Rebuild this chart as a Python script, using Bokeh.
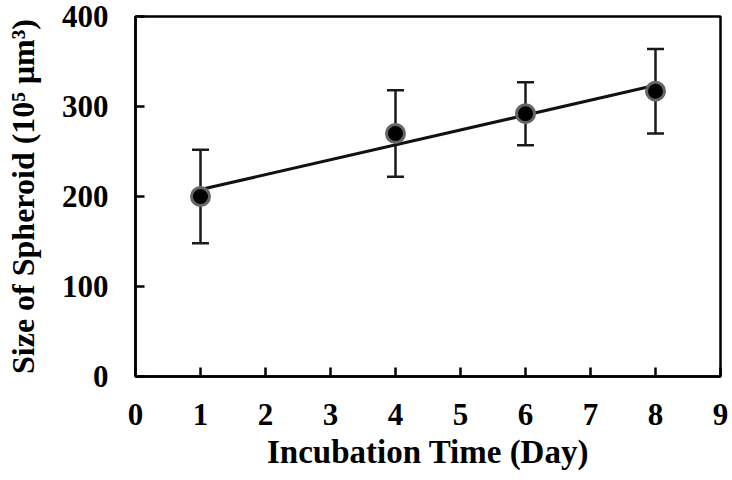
import numpy as np
from bokeh.plotting import figure
from bokeh.models import ColumnDataSource, Whisker, TeeHead, Range1d, FixedTicker
from bokeh.embed import file_html
from bokeh.resources import INLINE

days = [1, 4, 6, 8]
sizes = [200, 270, 292, 317]
errors = [52, 48, 35, 47]
x_ticks = [0, 1, 2, 3, 4, 5, 6, 7, 8, 9]
y_ticks = [0, 100, 200, 300, 400]

lower = [s - e for s, e in zip(sizes, errors)]
upper = [s + e for s, e in zip(sizes, errors)]
src = ColumnDataSource(dict(x=days, y=sizes, lo=lower, hi=upper))

slope, intercept = np.polyfit(days, sizes, 1)
fit_x = [min(days), max(days)]
fit_y = [slope * v + intercept for v in fit_x]

FONT = "Liberation Serif"

p = figure(width=732, height=480, output_backend="svg", toolbar_location=None,
           x_range=Range1d(0, 9), y_range=Range1d(0, 400),
           min_border_left=135, min_border_right=12, min_border_top=16, min_border_bottom=104)
p.grid.visible = False
p.outline_line_color = "black"
p.outline_line_width = 2.5
p.background_fill_color = "white"
p.border_fill_color = "white"

for ax in (p.xaxis[0], p.yaxis[0]):
    ax.axis_line_color = "black"
    ax.axis_line_width = 2.5
    ax.major_tick_line_color = "black"
    ax.major_tick_line_width = 2.5
    ax.major_tick_in = 9
    ax.major_tick_out = 0
    ax.minor_tick_line_color = None
    ax.major_label_text_font = FONT
    ax.major_label_text_font_style = "bold"
    ax.major_label_text_font_size = "31px"
    ax.major_label_text_color = "black"
    ax.axis_label_text_font = FONT
    ax.axis_label_text_font_style = "bold"
    ax.axis_label_text_color = "black"

p.xaxis.ticker = FixedTicker(ticks=x_ticks)
p.yaxis.ticker = FixedTicker(ticks=y_ticks)
p.xaxis.major_label_standoff = 27
p.yaxis.major_label_standoff = 27
p.xaxis.axis_label = "Incubation Time (Day)"
p.yaxis.axis_label = "Size of Spheroid (10⁵ μm³)"
p.xaxis.axis_label_text_font_size = "33px"
p.yaxis.axis_label_text_font_size = "32px"
p.xaxis.axis_label_standoff = 6
p.yaxis.axis_label_standoff = 18

p.line(fit_x, fit_y, line_color="#111111", line_width=3)

w = Whisker(source=src, base="x", upper="hi", lower="lo",
            line_color="#1a1a1a", line_width=2.5,
            upper_head=TeeHead(size=17, line_width=2.5, line_color="#1a1a1a"),
            lower_head=TeeHead(size=17, line_width=2.5, line_color="#1a1a1a"))
p.add_layout(w)

p.scatter("x", "y", source=src, size=18, fill_color="black",
          line_color="#666666", line_width=3)

open("out.html", "w").write(file_html(p, INLINE))
